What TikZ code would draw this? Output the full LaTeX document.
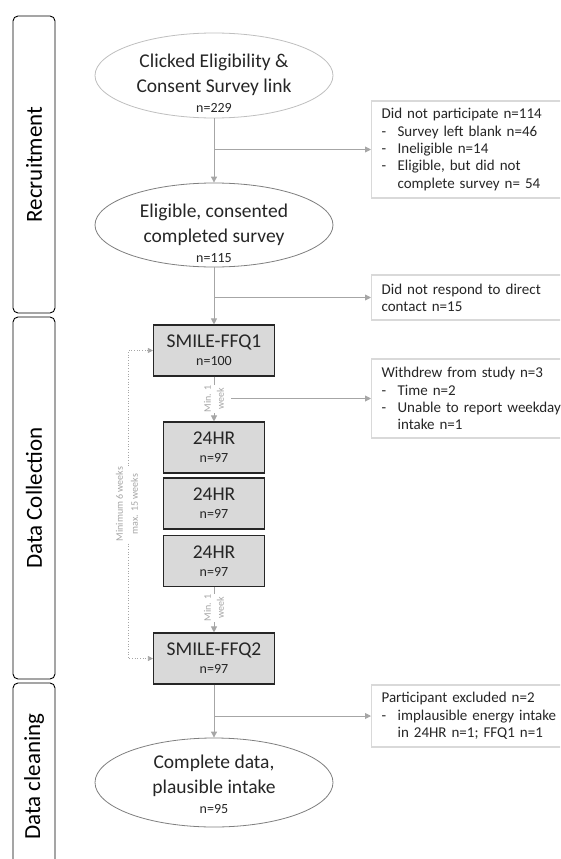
\documentclass[tikz,border=0pt]{standalone}
\usepackage{fontspec}
\setmainfont{Carlito}
\usepackage{graphicx}
\usetikzlibrary{shapes.geometric,arrows.meta}

\definecolor{arrowgrey}{HTML}{A6A6A6}
\definecolor{stepfill}{HTML}{D9D9D9}
\definecolor{noteline}{HTML}{D9D9D9}
\definecolor{ovallight}{HTML}{BFBFBF}
\definecolor{ovaldark}{HTML}{7F7F7F}
\definecolor{ink}{HTML}{262626}

\newcommand{\headfont}{\fontsize{19.5}{25}\selectfont}
\newcommand{\countfont}{\fontsize{14}{19}\selectfont}
\newcommand{\listdash}{\makebox[16pt][l]{-}}
\newcommand{\listgap}{\hspace*{16pt}}

\begin{document}
\begin{tikzpicture}[x=1pt, y=-1pt,
    oval/.style={ellipse, draw=ovaldark, fill=white, line width=0.8pt, minimum width=238pt, inner sep=0pt},
    ovaltext/.style={align=center, text=ink, inner sep=0pt, font=\headfont},
    weeknote/.style={rotate=90, fill=white, align=center, inner sep=1pt, text=arrowgrey, font=\fontsize{10}{13}\selectfont}]
    \useasboundingbox (0,0) rectangle (560,859);
    \clip (0,0) rectangle (560,859);
    % phase columns on the left
    \begin{scope}[every node/.style={draw=black, fill=white, rounded corners=5pt, line width=0.9pt, minimum width=42pt, inner sep=0pt, font=\fontsize{23}{27}\selectfont}]
        \node[minimum height=297pt] (recruit) at (34,164.5) {\rotatebox{90}{Recruitment}};
        \node[minimum height=362pt] (collect) at (34,498) {\rotatebox{90}{Data Collection}};
        \node[minimum height=187pt] (clean) at (34,776.5) {\rotatebox{90}{Data cleaning}};
    \end{scope}
    % survey stages
    \node[oval, draw=ovallight, minimum height=85pt, label={[ovaltext, yshift=-8pt]center:{Clicked Eligibility \&\\Consent Survey link\\[-5pt]\countfont n=229}}] (clicked) at (214,75.5) {};
    \node[oval, minimum height=84pt, label={[ovaltext, yshift=-8pt]center:{Eligible, consented\\completed survey\\[-5pt]\countfont n=115}}] (consent) at (214,225) {};
    \node[oval, minimum height=89pt, label={[ovaltext, yshift=-2pt]center:{Complete data,\\plausible intake\\[-5pt]\countfont n=95}}] (complete) at (214,782.5) {};
    \begin{scope}[every node/.style={draw=ink, fill=stepfill, line width=1.1pt, minimum height=51pt, inner sep=0pt, align=center, text=ink, font=\headfont}]
        \node[minimum width=121pt] (ffq1) at (214,350.5) {SMILE-FFQ1\\[-7pt]\countfont n=100};
        \node[minimum width=101pt] (hr1) at (214,447.5) {24HR\\[-7pt]\countfont n=97};
        \node[minimum width=101pt] (hr2) at (214,503.5) {24HR\\[-7pt]\countfont n=97};
        \node[minimum width=101pt] (hr3) at (214,561) {24HR\\[-7pt]\countfont n=97};
        \node[minimum width=121pt] (ffq2) at (214,658.5) {SMILE-FFQ2\\[-7pt]\countfont n=97};
    \end{scope}
    % drop-outs on the right
    \begin{scope}[every node/.style={draw=noteline, fill=white, line width=1.2pt, anchor=west, text width=180pt, inner xsep=10pt, inner ysep=0pt, align=left, text=ink, font=\fontsize{15}{17.3}\selectfont}]
        \node[minimum height=97pt] (out1) at (371,149.5) {Did not participate n=114\\\listdash Survey left blank n=46\\\listdash Ineligible n=14\\\listdash Eligible, but did not\\\listgap complete survey n= 54};
        \node[minimum height=45pt] (out2) at (371,297.5) {Did not respond to direct\\contact n=15};
        \node[minimum height=79pt] (out3) at (371,398.5) {Withdrew from study n=3\\\listdash Time n=2\\\listdash Unable to report weekday\\\listgap intake n=1};
        \node[minimum height=62pt] (out4) at (371,716) {Participant excluded n=2\\\listdash implausible energy intake\\\listgap in 24HR n=1; FFQ1 n=1};
    \end{scope}
    \coordinate (split1) at (214,149.5);
    \coordinate (split2) at (214,297.5);
    \coordinate (split3) at (231,398.5);
    \coordinate (split4) at (214,716);
    \coordinate (loopx) at (128,0);
    \begin{scope}[every edge/.style={draw=arrowgrey, line width=0.9pt, -{Triangle[length=6pt, width=6pt]}}]
        \path (clicked) edge (consent);
        \path (consent) edge (ffq1);
        \path (ffq1) edge (hr1);
        \path (hr3) edge (ffq2);
        \path (ffq2) edge (complete);
        \path (split1) edge (out1);
        \path (split2) edge (out2);
        \path (split3) edge (out3);
        \path (split4) edge (out4);
    \end{scope}
    \path[draw=arrowgrey, line width=0.7pt, dotted, {Triangle[length=5pt, width=5pt]}-{Triangle[length=5pt, width=5pt]}] (ffq1.west) -- (ffq1.west -| loopx) -- (ffq2.west -| loopx) -- (ffq2.west);
    % time gaps
    \node[weeknote] (gap1) at (214,399) {Min. 1\\week};
    \node[weeknote] (gap2) at (214,608) {Min. 1\\week};
    \node[weeknote, font=\fontsize{10}{15}\selectfont] (span) at (127,504) {Minimum 6 weeks\\max. 15 weeks};
\end{tikzpicture}
\end{document}
